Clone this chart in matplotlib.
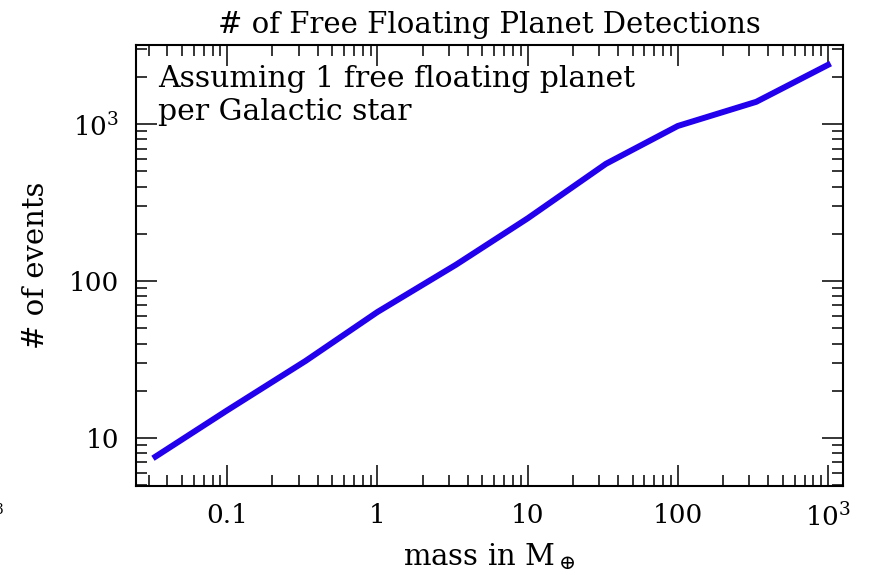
import matplotlib
matplotlib.use("Agg")
import matplotlib.pyplot as plt
from matplotlib.ticker import LogLocator, NullFormatter

# values
mass = [0.0333, 0.1, 0.333, 1, 3.33, 10, 33.3, 100, 333, 1000]
events = [7.6, 15.0, 31.0, 63.5, 127, 251, 560, 975, 1390, 2390]

xtick_vals = [0.1, 1, 10, 100, 1000]
xtick_labels = ["0.1", "1", "10", "100", r"$10^3$"]
ytick_vals = [10, 100, 1000]
ytick_labels = ["10", "100", r"$10^3$"]

plt.rcParams["font.family"] = ["DejaVu Serif"]
plt.rcParams["mathtext.fontset"] = "dejavuserif"

fig = plt.figure(figsize=(8.7, 5.75), dpi=100)
ax = fig.add_axes([0.1563, 0.1548, 0.8127, 0.7669])

ax.plot(mass, events, color="#2200ee", lw=4.3, solid_joinstyle="miter")

ax.set_xscale("log")
ax.set_yscale("log")
ax.set_xlim(0.0247, 1260)
ax.set_ylim(4.94, 3200)

ax.set_xticks(xtick_vals)
ax.set_xticklabels(xtick_labels)
ax.set_yticks(ytick_vals)
ax.set_yticklabels(ytick_labels)
ax.xaxis.set_minor_locator(LogLocator(base=10, subs=range(2, 10), numticks=20))
ax.yaxis.set_minor_locator(LogLocator(base=10, subs=range(2, 10), numticks=20))
ax.xaxis.set_minor_formatter(NullFormatter())
ax.yaxis.set_minor_formatter(NullFormatter())

ax.tick_params(which="both", direction="in", top=True, right=True, width=1.1, colors="black")
ax.tick_params(which="major", length=15, labelsize=19, pad=12)
ax.tick_params(which="minor", length=8)
for s in ax.spines.values():
    s.set_linewidth(1.5)

ax.set_title("# of Free Floating Planet Detections", fontsize=21, pad=9)
ax.set_xlabel(r"mass in M$_\oplus$", fontsize=21, labelpad=7)
ax.set_ylabel("# of events", fontsize=21, labelpad=14)

ax.text(0.031, 0.955, "Assuming 1 free floating planet\nper Galactic star",
        transform=ax.transAxes, ha="left", va="top", fontsize=21.5, linespacing=1.25)

# fragment of a neighbouring label cut off at the left edge
fig.text(-0.006, 1 - 510 / 575, "3", fontsize=10, va="center")

fig.savefig("out.png", dpi=100)
